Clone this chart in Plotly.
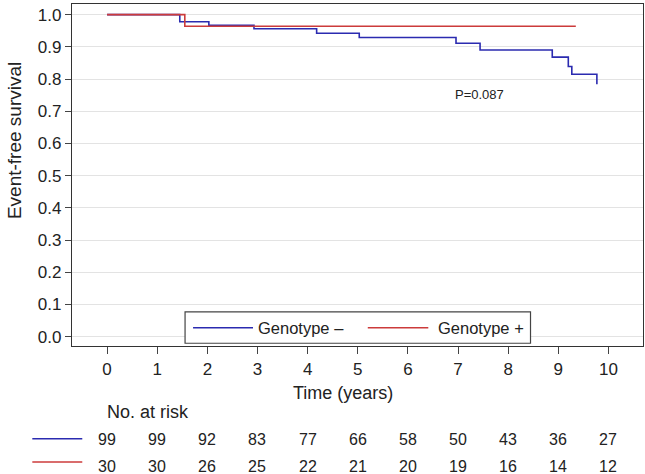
import plotly.graph_objects as go

# ---- data ----
neg_time = [0, 1.45, 2.03, 2.93, 4.18, 5.03, 6.96, 7.44, 8.88, 9.20, 9.27, 9.77]
neg_surv = [1.0, 0.978, 0.967, 0.956, 0.942, 0.929, 0.911, 0.890, 0.868, 0.839, 0.815, 0.784]
pos_time = [0, 1.55, 9.35]
pos_surv = [1.0, 0.964, 0.964]

risk_times = [0, 1, 2, 3, 4, 5, 6, 7, 8, 9, 10]
risk_neg = [99, 99, 92, 83, 77, 66, 58, 50, 43, 36, 27]
risk_pos = [30, 30, 26, 25, 22, 21, 20, 19, 16, 14, 12]

y_ticks = [0.0, 0.1, 0.2, 0.3, 0.4, 0.5, 0.6, 0.7, 0.8, 0.9, 1.0]
x_ticks = list(range(0, 11))

BLUE = "#2b2bb0"
RED = "#cc3b3b"
FONT = "Liberation Sans, Arial, Helvetica, sans-serif"
TXT = "#222222"

fig = go.Figure()
fig.add_trace(go.Scatter(x=neg_time, y=neg_surv, mode="lines", line=dict(color=BLUE, width=1.6, shape="hv"),
                         name="Genotype –", showlegend=False))
fig.add_trace(go.Scatter(x=pos_time, y=pos_surv, mode="lines", line=dict(color=RED, width=1.6, shape="hv"),
                         name="Genotype +", showlegend=False))

fig.update_layout(
    width=645, height=474,
    margin=dict(l=72, r=2, t=4, b=128),
    paper_bgcolor="white", plot_bgcolor="white",
    font=dict(family=FONT, size=17, color=TXT),
    showlegend=False,
)
fig.update_xaxes(range=[-0.7, 10.69], tickvals=x_ticks, ticktext=[str(t) for t in x_ticks],
                 showgrid=False, zeroline=False, showline=True, linecolor="#333333", linewidth=1.2,
                 mirror=True, ticks="outside", ticklen=7, tickcolor="#444444", tickwidth=1,
                 tickfont=dict(size=17, color=TXT))
fig.update_yaxes(range=[-0.029, 1.033], tickvals=y_ticks, ticktext=[f"{v:.1f}" for v in y_ticks],
                 showgrid=True, gridcolor="#e3e3e3", gridwidth=1.2, zeroline=False,
                 showline=True, linecolor="#333333", linewidth=1.2, mirror=True,
                 ticks="outside", ticklen=6, tickcolor="#444444", tickwidth=1,
                 tickfont=dict(size=17, color=TXT))

ann = []
# P value
ann.append(dict(x=7.42, y=0.753, xref="x", yref="y", text="P=0.087", showarrow=False,
                font=dict(size=13, color=TXT)))
# axis titles
ann.append(dict(x=0.4746, y=-0.1365, xref="paper", yref="paper", text="Time (years)", showarrow=False,
                font=dict(size=18, color=TXT), xanchor="center", yanchor="middle"))
ann.append(dict(x=-0.1016, y=0.602, xref="paper", yref="paper", text="Event-free survival", showarrow=False,
                font=dict(size=19, color=TXT), textangle=-90, xanchor="center", yanchor="middle"))
# legend (manual)
shapes = [
    dict(type="rect", xref="paper", yref="paper", x0=0.198, x1=0.803, y0=0.008, y1=0.100,
         line=dict(color="#444444", width=1.2), fillcolor="white", layer="above"),
    dict(type="line", xref="paper", yref="paper", x0=0.212, x1=0.317, y0=0.0535, y1=0.0535,
         line=dict(color=BLUE, width=1.6), layer="above"),
    dict(type="line", xref="paper", yref="paper", x0=0.518, x1=0.624, y0=0.0535, y1=0.0535,
         line=dict(color=RED, width=1.6), layer="above"),
    # risk table samples
    dict(type="line", xref="paper", yref="paper", x0=-0.0695, x1=0.018, y0=-0.271, y1=-0.271,
         line=dict(color=BLUE, width=1.6)),
    dict(type="line", xref="paper", yref="paper", x0=-0.0695, x1=0.018, y0=-0.339, y1=-0.339,
         line=dict(color=RED, width=1.6)),
]
ann.append(dict(x=0.322, y=0.0535, xref="paper", yref="paper", text="Genotype –", showarrow=False,
                xanchor="left", yanchor="middle", font=dict(size=16.5, color=TXT)))
ann.append(dict(x=0.637, y=0.0535, xref="paper", yref="paper", text="Genotype +", showarrow=False,
                xanchor="left", yanchor="middle", font=dict(size=16.5, color=TXT)))
# risk table
ann.append(dict(x=0.0578, y=-0.192, xref="paper", yref="paper", text="No. at risk", showarrow=False,
                xanchor="left", yanchor="middle", font=dict(size=18, color=TXT)))
for t, n in zip(risk_times, risk_neg):
    ann.append(dict(x=t, y=-0.273, xref="x", yref="paper", text=str(n), showarrow=False,
                    xanchor="center", yanchor="middle", font=dict(size=16, color=TXT)))
for t, n in zip(risk_times, risk_pos):
    ann.append(dict(x=t, y=-0.353, xref="x", yref="paper", text=str(n), showarrow=False,
                    xanchor="center", yanchor="middle", font=dict(size=16, color=TXT)))

fig.update_layout(annotations=ann, shapes=shapes)
fig.write_html("out.html", config={"displayModeBar": False},
               post_script="document.body.style.margin='0';document.body.style.padding='0';")
